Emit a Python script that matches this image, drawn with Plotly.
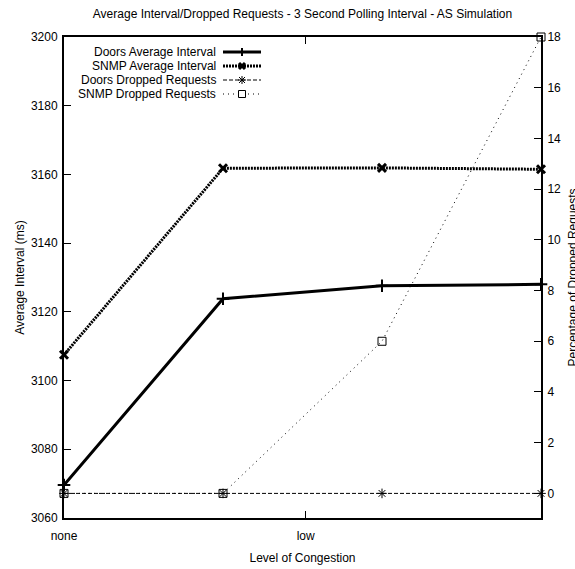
import plotly.graph_objects as go

# ---------------- data ----------------
x_positions = [0, 1, 2, 3]
x_tick_vals = [0, 1.52]
x_tick_text = ["none", "low"]

doors_avg_interval = [3069.6, 3123.8, 3127.6, 3128.0]
snmp_avg_interval = [3107.5, 3161.8, 3161.9, 3161.5]
doors_dropped = [0, 0, 0, 0]
snmp_dropped = [0, 0, 6, 18]

series_names = ["Doors Average Interval", "SNMP Average Interval",
                "Doors Dropped Requests", "SNMP Dropped Requests"]

y1_ticks = [3060, 3080, 3100, 3120, 3140, 3160, 3180, 3200]
y2_ticks = [0, 2, 4, 6, 8, 10, 12, 14, 16, 18]

FONT = "Liberation Sans Narrow, Arial Narrow, Liberation Sans, Arial, sans-serif"
FS = 12

# ---------------- styles ----------------
styles = [
    dict(width=3, dash="solid", symbol="cross-thin", msize=9, mlw=2, yaxis="y"),
    dict(width=3, dash="2px,1px", symbol="x-thin", msize=8, mlw=3, yaxis="y"),
    dict(width=1, dash="4px,2px", symbol="asterisk", msize=8, mlw=1, yaxis="y2"),
    dict(width=1, dash="1px,4px", symbol="square-open", msize=8, mlw=1, yaxis="y2"),
]
values = [doors_avg_interval, snmp_avg_interval, doors_dropped, snmp_dropped]

fig = go.Figure()
for name, vals, st in zip(series_names, values, styles):
    fig.add_trace(go.Scatter(
        x=x_positions, y=vals, name=name, yaxis=st["yaxis"],
        mode="lines+markers", cliponaxis=False, showlegend=False,
        line=dict(color="black", width=st["width"], dash=st["dash"]),
        marker=dict(symbol=st["symbol"], size=st["msize"], color="black",
                    line=dict(color="black", width=st["mlw"])),
    ))

# ---------------- custom gnuplot-style legend ----------------
plot_left, plot_right, plot_top, plot_bottom = 64, 541, 37, 518
pw, ph = plot_right - plot_left, plot_bottom - plot_top

def px_x(px):
    return (px - plot_left) / pw

def px_y(py):
    return (plot_bottom - py) / ph

legend_rows_px = [52, 66, 80, 94]
text_right_px = 218
sample_x0, sample_x1, sample_mid = 223, 261, 242

shapes = []
annotations = []
for name, st, ry in zip(series_names, styles, legend_rows_px):
    yy = px_y(ry)
    annotations.append(dict(
        text=name, x=px_x(text_right_px), y=yy, xref="paper", yref="paper",
        xanchor="right", yanchor="middle", showarrow=False,
        font=dict(family=FONT, size=FS, color="black")))
    shapes.append(dict(type="line", xref="paper", yref="paper",
                       x0=px_x(sample_x0), x1=px_x(sample_x1), y0=yy, y1=yy,
                       line=dict(color="black", width=st["width"],
                                 dash=st["dash"])))
    xa = px_x(sample_mid)
    common = dict(xref="paper", yref="paper", xsizemode="pixel",
                  ysizemode="pixel", xanchor=xa, yanchor=yy)
    lw = st["mlw"]
    segs = []
    if st["symbol"] in ("cross-thin", "asterisk"):
        segs += [(-4, 0, 4, 0), (0, -4, 0, 4)]
    if st["symbol"] in ("x-thin", "asterisk"):
        segs += [(-3, -3, 3, 3), (-3, 3, 3, -3)]
    for (a, b, c, d) in segs:
        shapes.append(dict(type="line", x0=a, y0=b, x1=c, y1=d,
                           line=dict(color="black", width=lw), **common))
    if st["symbol"] == "square-open":
        shapes.append(dict(type="rect", x0=-3.5, y0=-3.5, x1=3.5, y1=3.5,
                           fillcolor="white",
                           line=dict(color="black", width=1), **common))

# right axis title (partially cut off by the canvas edge, as in reference)
annotations.append(dict(
    text="Percentage of Dropped Requests", x=px_x(572), y=0.5,
    xref="paper", yref="paper", xanchor="center", yanchor="middle",
    textangle=-90, showarrow=False,
    font=dict(family=FONT, size=FS, color="black")))

axis_common = dict(showline=True, linecolor="black", linewidth=2,
                   ticks="inside", ticklen=7, tickwidth=1, tickcolor="black",
                   showgrid=False, zeroline=False, automargin=False,
                   tickfont=dict(family=FONT, size=FS, color="black"))

fig.update_layout(
    width=575, height=569,
    margin=dict(l=plot_left, r=575 - plot_right, t=plot_top, b=569 - plot_bottom,
                autoexpand=False),
    paper_bgcolor="white", plot_bgcolor="white",
    font=dict(family=FONT, size=FS, color="black"),
    title=dict(text="Average Interval/Dropped Requests - 3 Second Polling Interval - AS Simulation",
               x=302.5 / 575, xanchor="center",
               y=1 - 14 / 569, yanchor="middle",
               font=dict(family=FONT, size=FS, color="black")),
    xaxis=dict(range=[0, 3], tickvals=x_tick_vals, ticktext=x_tick_text,
               mirror="ticks", ticklabelstandoff=6,
               title=dict(text="Level of Congestion", standoff=11,
                          font=dict(family=FONT, size=FS)),
               **axis_common),
    yaxis=dict(range=[3060, 3200], tickvals=y1_ticks, ticklabelstandoff=2,
               title=dict(text="Average Interval (ms)", standoff=4,
                          font=dict(family=FONT, size=FS)),
               **axis_common),
    yaxis2=dict(range=[-0.97, 18], tickvals=y2_ticks, overlaying="y",
                side="right", ticklabelstandoff=2, **axis_common),
    shapes=shapes, annotations=annotations,
    showlegend=False,
)

fig.write_html(
    "out.html",
    config={"displayModeBar": False},
    post_script="document.body.style.margin='0';document.body.style.overflow='hidden';",
)
